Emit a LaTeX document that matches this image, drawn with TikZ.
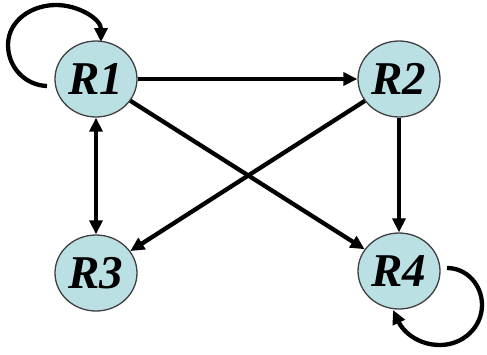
\documentclass[tikz,border=0pt]{standalone}
\usepackage{fontspec}
\setmainfont{Liberation Serif}
\usetikzlibrary{arrows.meta,shapes.geometric}
\definecolor{nodefill}{RGB}{187,224,228}
\begin{document}
\begin{tikzpicture}[x=1pt,y=-1pt,
  rnode/.style={ellipse,draw=black!75,line width=1.3pt,fill=nodefill,minimum width=82pt,minimum height=76pt,inner sep=0pt,font=\fontsize{47}{47}\selectfont\bfseries\itshape},
  edge/.style={line width=4.3pt,-{Triangle[length=14pt,width=13pt]}},
  bedge/.style={line width=4.3pt,{Triangle[length=14pt,width=13pt]}-{Triangle[length=14pt,width=13pt]}}]
\useasboundingbox (0,0) rectangle (487,354);
\node[rnode] (R1) at (96,79) {R1};
\node[rnode] (R2) at (399,79) {R2};
\node[rnode] (R3) at (96,273) {R3};
\node[rnode] (R4) at (399,271) {R4};
\draw[edge] (R1) -- (R2);
\draw[bedge] (R1) -- (R3);
\draw[edge] (R1) -- (R4);
\draw[edge] (R2) -- (R3);
\draw[edge] (R2) -- (R4);
\coordinate (l1s) at (47,86);
\coordinate (l1e) at (101,42);
\draw[edge] (l1s) to[out=178,in=-90] (8,45) to[out=90,in=180] (56,5) to[out=0,in=90] (l1e);
\coordinate (l4s) at (447,268);
\coordinate (l4e) at (393,310);
\draw[edge] (l4s) to[out=0,in=90] (482,305) to[out=-90,in=0] (440,345) to[out=180,in=-65] (l4e);
\end{tikzpicture}
\end{document}
